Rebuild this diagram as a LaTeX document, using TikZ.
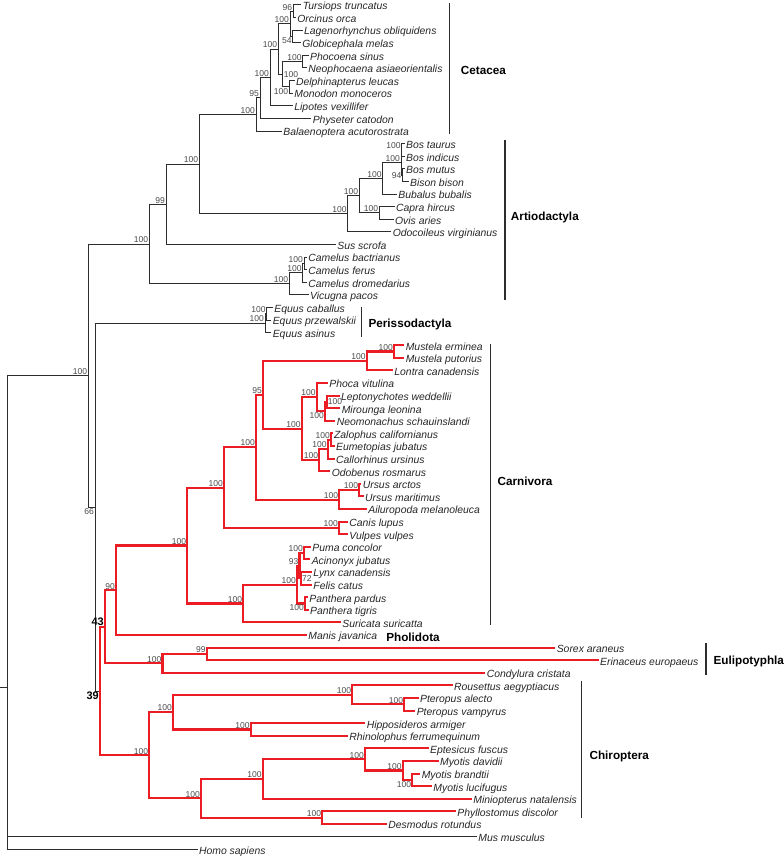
\documentclass[tikz,border=0pt]{standalone}
\usepackage{fontspec}
\setmainfont{Liberation Sans}
\usepackage{xcolor}
\usetikzlibrary{positioning}
\definecolor{cladered}{RGB}{236,28,36}
\definecolor{treegray}{RGB}{45,45,45}
\definecolor{bootgray}{RGB}{75,75,75}
\tikzset{
  pt/.style={inner sep=0pt, minimum size=0pt, shape=rectangle},
  taxon/.style={anchor=west, inner sep=1pt, text=black!85, font=\fontsize{7.8}{9}\selectfont\itshape, text height=0.72em, text depth=0pt},
  boot/.style={inner sep=0.5pt, text=bootgray, font=\fontsize{6.4}{7}\selectfont},
  bigboot/.style={inner sep=0.5pt, font=\fontsize{8.2}{9}\selectfont\bfseries},
  clade/.style={anchor=west, inner sep=0pt, font=\fontsize{8.8}{10}\selectfont\bfseries, text height=0.72em, text depth=0pt},
  branch/.style={draw=treegray, line width=0.75pt},
  redbranch/.style={draw=cladered, line width=1.6pt},
  cladebar/.style={draw=treegray, line width=1pt}
}
\begin{document}
\begin{tikzpicture}[x=0.75pt,y=-0.75pt]
\useasboundingbox (0,0) rectangle (784,856);

\foreach \nm/\tx/\xx [count=\i from 0] in {
  ttru/Tursiops truncatus/301.2, oorc/Orcinus orca/295.8, lobl/Lagenorhynchus obliquidens/302.5,
  gmel/Globicephala melas/300.8, psin/Phocoena sinus/308.5, nasi/Neophocaena asiaeorientalis/306.8,
  dleu/Delphinapterus leucas/294.5, mmon/Monodon monoceros/292.8, lvex/Lipotes vexillifer/292.8,
  pcat/Physeter catodon/311.2, bacu/Balaenoptera acutorostrata/281.8,
  btau/Bos taurus/404.5, bind/Bos indicus/404.5, bmut/Bos mutus/404.5, bbis/Bison bison/408.5,
  bbub/Bubalus bubalis/396.8, chir/Capra hircus/394.5, oari/Ovis aries/393.5,
  ovir/Odocoileus virginianus/391.2, sscr/Sus scrofa/335.8, cbac/Camelus bactrianus/306.8,
  cfer/Camelus ferus/306.8, cdro/Camelus dromedarius/306.8, vpac/Vicugna pacos/308.5,
  ecab/Equus caballus/272.8, eprz/Equus przewalskii/271.2, easi/Equus asinus/271.2,
  merm/Mustela erminea/404.2, mput/Mustela putorius/404.2, lcan/Lontra canadensis/392.8,
  pvit/Phoca vitulina/327.8, lwed/Leptonychotes weddellii/339.5, mleo/Mirounga leonina/340.2,
  nsch/Neomonachus schauinslandi/335.2, zcal/Zalophus californianus/332.5, ejub/Eumetopias jubatus/334.5,
  curs/Callorhinus ursinus/334.5, oros/Odobenus rosmarus/330.2, uarc/Ursus arctos/361.2,
  umar/Ursus maritimus/363.5, amel/Ailuropoda melanoleuca/366.8, clup/Canis lupus/347.8,
  vvul/Vulpes vulpes/347.8, pcon/Puma concolor/310.8, ajub/Acinonyx jubatus/310.2,
  lynx/Lynx canadensis/311.8, fcat/Felis catus/311.8, ppar/Panthera pardus/307.8,
  ptig/Panthera tigris/308.5, ssur/Suricata suricatta/340.8, mjav/Manis javanica/306.8,
  sara/Sorex araneus/555.2, eeur/Erinaceus europaeus/598.5, ccri/Condylura cristata/485.2,
  raeg/Rousettus aegyptiacus/452.5, pale/Pteropus alecto/418.5, pvam/Pteropus vampyrus/415.2,
  harm/Hipposideros armiger/365.2, rfer/Rhinolophus ferrumequinum/347.8, efus/Eptesicus fuscus/428.5,
  mdav/Myotis davidii/438.5, mbra/Myotis brandtii/420.2, mluc/Myotis lucifugus/431.8,
  mnat/Miniopterus natalensis/471.8, pdis/Phyllostomus discolor/455.8, drot/Desmodus rotundus/386.8,
  mmus/Mus musculus/476.8, hsap/Homo sapiens/197.5}
  \node[taxon] (\nm) at (\xx,{5+12.6*\i}) {\tx};

\foreach \nm/\xx/\yy in {
  cTO/293.3/11.3, cLG/292.7/36.5, cDel/290/23.9, cPho/302.7/61.7, cMon/289.3/86.9,
  cPM/282.7/74.3, cDoi/278.3/49.1, cLip/270/77.5, cOdo/260/97.9, cCet/256/114.5,
  aTI/401.7/149.9, aMB/402.5/175.1, aBos/401/162.5, aBov/382.7/178.3, aCap/379.3/212.9,
  aBvd/359.3/195.6, aRum/347.7/213.7, aCR/199.3/164.1, aS/166/204.3, aBF/304/263.3,
  aCml/302.7/272.8, aCam/289.3/283.8, aCA/149.3/244,
  pCP/266.7/313.7, pEq/265/323.2, nB/88.3/375.6, n66/95/507.1, root/7.5/687.1,
  n39/100/691, n43/105/626.8, n90/116/590.3,
  kCar/187.3/545.5, kCan/224/487.6, k256/256/447.2, k95/263/394.8, kMus/366.7/360.9,
  kMst/394/351.5, kPin/301.7/428.7, kPhd/316.7/397.2, kMon/325/411.4, kLM/326.7/401.9,
  kOta/319.3/460.2, kOtr/327.7/449.2, kZE/331/439.7, kUrs/339.3/499.6, kUa/359.3/490.1,
  kCnd/339/527.9, kFel/243.3/603.5, kFld/297/584.6, k93/299.5/565.7, kPA/304/553.1,
  kLF/301/578.3, kPan/305/603.5,
  eSE/206.7/653.9, eEul/162.5/663.4,
  hPtr/404.3/704.3, hPtd/352.3/694.9, hRhi/250.7/729.5, hYin/173/712.2, hMbl/412.3/779.9,
  hMyo/402.7/770.5, hVsp/365/759.4, hVso/262.7/779.1, hPhy/322.3/817.7, hYan/201/798.4,
  hChi/149.3/755.3}
  \node[pt] (\nm) at (\xx,\yy) {};

\coordinate (rootend) at (0,687.1);
\draw[branch] (rootend) -- (root.center);

\foreach \p/\c in {
  cTO/ttru, cTO/oorc, cLG/lobl, cLG/gmel, cDel/cTO, cDel/cLG, cPho/psin, cPho/nasi,
  cMon/dleu, cMon/mmon, cPM/cPho, cPM/cMon, cDoi/cDel, cDoi/cPM, cLip/cDoi, cLip/lvex,
  cOdo/cLip, cOdo/pcat, cCet/cOdo, cCet/bacu,
  aTI/btau, aTI/bind, aMB/bmut, aMB/bbis, aBos/aTI, aBos/aMB, aBov/aBos, aBov/bbub,
  aCap/chir, aCap/oari, aBvd/aBov, aBvd/aCap, aRum/aBvd, aRum/ovir, aCR/cCet, aCR/aRum,
  aS/aCR, aS/sscr, aBF/cbac, aBF/cfer, aCml/aBF, aCml/cdro, aCam/aCml, aCam/vpac,
  aCA/aS, aCA/aCam, pCP/ecab, pCP/eprz, pEq/pCP, pEq/easi,
  nB/aCA, nB/n66, n66/pEq, n66/n39, root/nB, root/mmus, root/hsap}
  \draw[branch] (\p.center) |- (\c.west);

\foreach \p/\c in {
  n39/n43, n39/hChi, n43/n90, n43/eEul, n90/kCar, n90/mjav,
  kCar/kCan, kCar/kFel, kCan/k256, kCan/kCnd, k256/k95, k256/kUrs, k95/kMus, k95/kPin,
  kMus/kMst, kMus/lcan, kMst/merm, kMst/mput, kPin/kPhd, kPin/kOta, kPhd/pvit, kPhd/kMon,
  kMon/kLM, kMon/nsch, kLM/lwed, kLM/mleo, kOta/kOtr, kOta/oros, kOtr/kZE, kOtr/curs,
  kZE/zcal, kZE/ejub, kUrs/kUa, kUrs/amel, kUa/uarc, kUa/umar, kCnd/clup, kCnd/vvul,
  kFel/kFld, kFel/ssur, kFld/k93, kFld/kPan, k93/kPA, k93/kLF, kPA/pcon, kPA/ajub,
  kLF/lynx, kLF/fcat, kPan/ppar, kPan/ptig,
  eEul/eSE, eEul/ccri, eSE/sara, eSE/eeur,
  hChi/hYin, hChi/hYan, hYin/hPtd, hYin/hRhi, hPtd/raeg, hPtd/hPtr, hPtr/pale, hPtr/pvam,
  hRhi/harm, hRhi/rfer, hYan/hVso, hYan/hPhy, hVso/hVsp, hVso/mnat, hVsp/efus, hVsp/hMyo,
  hMyo/mdav, hMyo/hMbl, hMbl/mbra, hMbl/mluc, hPhy/pdis, hPhy/drot}
  \draw[redbranch] (\p.center) |- (\c.west);

% bootstrap values
\foreach \nm/\v in {
  cTO/96, cDel/100, cPho/100, cDoi/100, cLip/100, cOdo/95, cCet/100,
  aTI/100, aBos/100, aBov/100, aCap/100, aBvd/100, aRum/100, aCR/100, aS/99,
  aBF/100, aCml/100, aCam/100, aCA/100, pCP/100, pEq/100, nB/100, n90/90,
  kCar/100, kCan/100, k256/100, k95/95, kMus/100, kMst/100, kPin/100, kPhd/100,
  kOta/100, kOtr/100, kZE/100, kUrs/100, kUa/100, kCnd/100, kFel/100, kFld/100,
  k93/93, kPA/100, eSE/99, eEul/100, hPtr/100, hPtd/100, hRhi/100, hYin/100,
  hMyo/100, hVsp/100, hVso/100, hPhy/100, hYan/100, hChi/100}
  \node[boot, above left=0cm of \nm] {\v};
\foreach \nm/\v in {cLG/54, cMon/100, kMon/100, kPan/100, hMbl/100, n66/66}
  \node[boot, below left=0cm of \nm] {\v};
\foreach \nm/\v in {aMB/94}
  \node[boot, left=0cm of \nm] {\v};
\foreach \nm/\v in {cPM/100, kLM/100, kLF/72}
  \node[boot, right=0cm of \nm] {\v};
\node[bigboot, above left=0cm of n43] {43};
\node[bigboot, below left=0cm of n39] {39};

% clade bars
\draw[cladebar] (449.3,3) -- (449.3,133.5);
\draw[cladebar] (505,140) -- (505,300);
\draw[cladebar] (361.7,306.7) -- (361.7,336.7);
\draw[cladebar] (490.7,344) -- (490.7,625);
\draw[cladebar] (706,643) -- (706,675);
\draw[cladebar] (581.7,680.7) -- (581.7,818);

\node[clade] (lcet) at (460.7,70) {Cetacea};
\node[clade] (lart) at (510.7,216) {Artiodactyla};
\node[clade] (lper) at (368.3,322.7) {Perissodactyla};
\node[clade] (lcar) at (497.3,481) {Carnivora};
\node[clade] (lpho) at (386,636.7) {Pholidota};
\node[clade] (leul) at (713.3,660) {Eulipotyphla};
\node[clade] (lchi) at (589.3,755) {Chiroptera};
\end{tikzpicture}
\end{document}
